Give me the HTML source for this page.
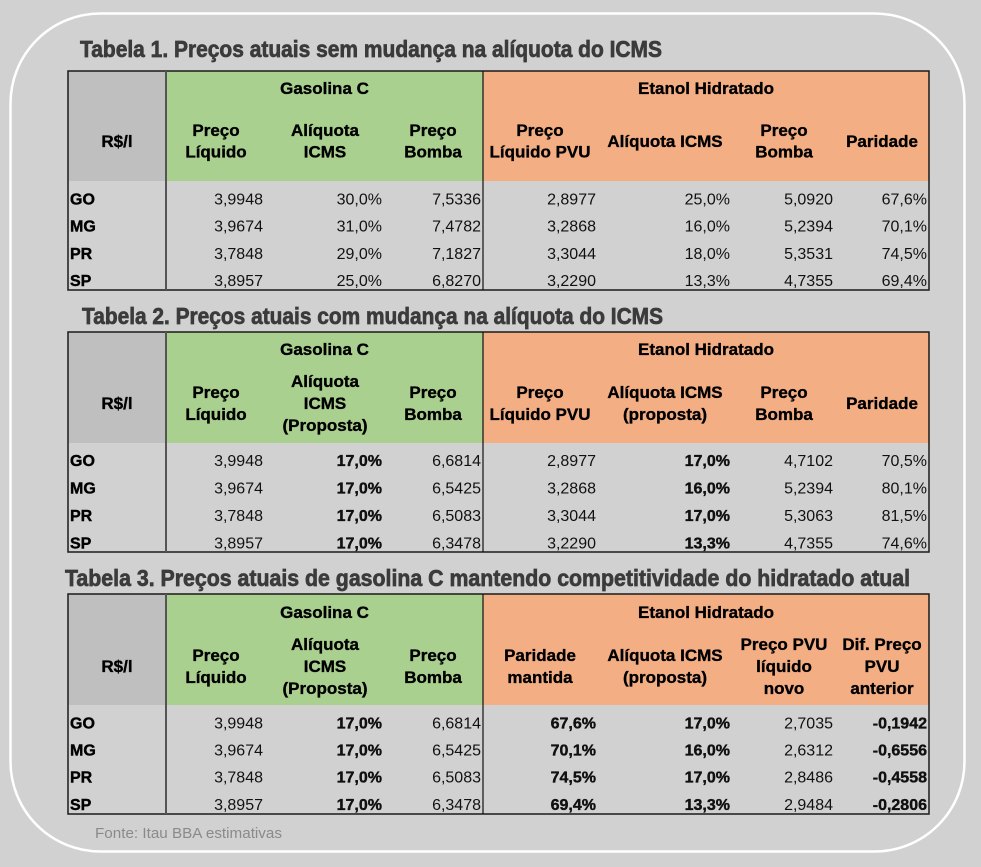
<!DOCTYPE html>
<html><head><meta charset="utf-8"><style>
html,body{margin:0;padding:0;background:#d1d1d1;}
svg{display:block;}
.t{font-family:"Liberation Sans",sans-serif;font-weight:bold;font-size:23px;fill:#3b3b3b;stroke:#3b3b3b;stroke-width:0.7px;}
.h{font-family:"Liberation Sans",sans-serif;font-weight:bold;font-size:17px;fill:#000;text-anchor:middle;stroke:#000;stroke-width:0.35px;}
.d{font-family:"Liberation Sans",sans-serif;font-size:16px;fill:#111;text-anchor:end;}
.b{font-weight:bold;stroke:#000;stroke-width:0.35px;}
.l{font-family:"Liberation Sans",sans-serif;font-weight:bold;font-size:16px;fill:#000;stroke:#000;stroke-width:0.4px;}
.f{font-family:"Liberation Sans",sans-serif;font-size:15px;fill:#8a8a8a;}
</style></head><body>
<svg width="981" height="867" viewBox="0 0 981 867" xmlns="http://www.w3.org/2000/svg">
<rect x="0" y="0" width="981" height="867" fill="#d1d1d1"/>
<rect x="10.5" y="13.5" width="954" height="838" rx="90" ry="90" fill="none" stroke="#ffffff" stroke-width="2.5"/>

<!-- Titles -->
<text class="t" x="80" y="57" textLength="582" lengthAdjust="spacingAndGlyphs">Tabela 1. Preços atuais sem mudança na alíquota do ICMS</text>
<text class="t" x="82" y="324" textLength="581" lengthAdjust="spacingAndGlyphs">Tabela 2. Preços atuais com mudança na alíquota do ICMS</text>
<text class="t" x="65" y="586" textLength="845" lengthAdjust="spacingAndGlyphs">Tabela 3. Preços atuais de gasolina C mantendo competitividade do hidratado atual</text>

<!-- TABLE 1 -->
<rect x="68" y="71" width="98" height="110" fill="#bfbfbf"/>
<rect x="166" y="71" width="317" height="110" fill="#a9d08e"/>
<rect x="483" y="71" width="446" height="110" fill="#f4ae84"/>
<rect x="68" y="71" width="861" height="219" fill="none" stroke="#1a1a1a" stroke-width="1.5"/>
<line x1="166" y1="71" x2="166" y2="290" stroke="#555" stroke-width="2"/>
<line x1="483" y1="71" x2="483" y2="290" stroke="#111" stroke-width="1.2"/>

<text class="h" x="324.5" y="94">Gasolina C</text>
<text class="h" x="706" y="94">Etanol Hidratado</text>
<text class="h" x="117" y="147">R$/l</text>
<text class="h" x="216" y="136">Preço</text><text class="h" x="216" y="157.5">Líquido</text>
<text class="h" x="325" y="136">Alíquota</text><text class="h" x="325" y="157.5">ICMS</text>
<text class="h" x="433" y="136">Preço</text><text class="h" x="433" y="157.5">Bomba</text>
<text class="h" x="540" y="136">Preço</text><text class="h" x="540" y="157.5">Líquido PVU</text>
<text class="h" x="665" y="147">Alíquota ICMS</text>
<text class="h" x="784" y="136">Preço</text><text class="h" x="784" y="157.5">Bomba</text>
<text class="h" x="882" y="147">Paridade</text>

<g>
<text class="l" x="70" y="204.3">GO</text>
<text class="d" x="263" y="204.3">3,9948</text><text class="d" x="382" y="204.3">30,0%</text><text class="d" x="481" y="204.3">7,5336</text>
<text class="d" x="596" y="204.3">2,8977</text><text class="d" x="730" y="204.3">25,0%</text><text class="d" x="833" y="204.3">5,0920</text><text class="d" x="927" y="204.3">67,6%</text>
<text class="l" x="70" y="231.5">MG</text>
<text class="d" x="263" y="231.5">3,9674</text><text class="d" x="382" y="231.5">31,0%</text><text class="d" x="481" y="231.5">7,4782</text>
<text class="d" x="596" y="231.5">3,2868</text><text class="d" x="730" y="231.5">16,0%</text><text class="d" x="833" y="231.5">5,2394</text><text class="d" x="927" y="231.5">70,1%</text>
<text class="l" x="70" y="258.8">PR</text>
<text class="d" x="263" y="258.8">3,7848</text><text class="d" x="382" y="258.8">29,0%</text><text class="d" x="481" y="258.8">7,1827</text>
<text class="d" x="596" y="258.8">3,3044</text><text class="d" x="730" y="258.8">18,0%</text><text class="d" x="833" y="258.8">5,3531</text><text class="d" x="927" y="258.8">74,5%</text>
<text class="l" x="70" y="286">SP</text>
<text class="d" x="263" y="286">3,8957</text><text class="d" x="382" y="286">25,0%</text><text class="d" x="481" y="286">6,8270</text>
<text class="d" x="596" y="286">3,2290</text><text class="d" x="730" y="286">13,3%</text><text class="d" x="833" y="286">4,7355</text><text class="d" x="927" y="286">69,4%</text>
</g>

<!-- TABLE 2 -->
<rect x="68" y="332" width="98" height="111" fill="#bfbfbf"/>
<rect x="166" y="332" width="317" height="111" fill="#a9d08e"/>
<rect x="483" y="332" width="446" height="111" fill="#f4ae84"/>
<rect x="68" y="332" width="861" height="220" fill="none" stroke="#1a1a1a" stroke-width="1.5"/>
<line x1="166" y1="332" x2="166" y2="552" stroke="#555" stroke-width="2"/>
<line x1="483" y1="332" x2="483" y2="552" stroke="#111" stroke-width="1.2"/>

<text class="h" x="324.5" y="355">Gasolina C</text>
<text class="h" x="706" y="355">Etanol Hidratado</text>
<text class="h" x="117" y="409">R$/l</text>
<text class="h" x="216" y="398">Preço</text><text class="h" x="216" y="420">Líquido</text>
<text class="h" x="325" y="387">Alíquota</text><text class="h" x="325" y="409">ICMS</text><text class="h" x="325" y="431">(Proposta)</text>
<text class="h" x="433" y="398">Preço</text><text class="h" x="433" y="420">Bomba</text>
<text class="h" x="540" y="398">Preço</text><text class="h" x="540" y="420">Líquido PVU</text>
<text class="h" x="665" y="398">Alíquota ICMS</text><text class="h" x="665" y="420">(proposta)</text>
<text class="h" x="784" y="398">Preço</text><text class="h" x="784" y="420">Bomba</text>
<text class="h" x="882" y="409">Paridade</text>

<g>
<text class="l" x="70" y="466">GO</text>
<text class="d" x="263" y="466">3,9948</text><text class="d b" x="382" y="466">17,0%</text><text class="d" x="481" y="466">6,6814</text>
<text class="d" x="596" y="466">2,8977</text><text class="d b" x="730" y="466">17,0%</text><text class="d" x="833" y="466">4,7102</text><text class="d" x="927" y="466">70,5%</text>
<text class="l" x="70" y="493.5">MG</text>
<text class="d" x="263" y="493.5">3,9674</text><text class="d b" x="382" y="493.5">17,0%</text><text class="d" x="481" y="493.5">6,5425</text>
<text class="d" x="596" y="493.5">3,2868</text><text class="d b" x="730" y="493.5">16,0%</text><text class="d" x="833" y="493.5">5,2394</text><text class="d" x="927" y="493.5">80,1%</text>
<text class="l" x="70" y="521">PR</text>
<text class="d" x="263" y="521">3,7848</text><text class="d b" x="382" y="521">17,0%</text><text class="d" x="481" y="521">6,5083</text>
<text class="d" x="596" y="521">3,3044</text><text class="d b" x="730" y="521">17,0%</text><text class="d" x="833" y="521">5,3063</text><text class="d" x="927" y="521">81,5%</text>
<text class="l" x="70" y="548.5">SP</text>
<text class="d" x="263" y="548.5">3,8957</text><text class="d b" x="382" y="548.5">17,0%</text><text class="d" x="481" y="548.5">6,3478</text>
<text class="d" x="596" y="548.5">3,2290</text><text class="d b" x="730" y="548.5">13,3%</text><text class="d" x="833" y="548.5">4,7355</text><text class="d" x="927" y="548.5">74,6%</text>
</g>

<!-- TABLE 3 -->
<rect x="68" y="594" width="98" height="111" fill="#bfbfbf"/>
<rect x="166" y="594" width="317" height="111" fill="#a9d08e"/>
<rect x="483" y="594" width="446" height="111" fill="#f4ae84"/>
<rect x="68" y="594" width="861" height="220" fill="none" stroke="#1a1a1a" stroke-width="1.5"/>
<line x1="166" y1="594" x2="166" y2="814" stroke="#555" stroke-width="2"/>
<line x1="483" y1="594" x2="483" y2="814" stroke="#111" stroke-width="1.2"/>

<text class="h" x="324.5" y="618">Gasolina C</text>
<text class="h" x="706" y="618">Etanol Hidratado</text>
<text class="h" x="117" y="672">R$/l</text>
<text class="h" x="216" y="661">Preço</text><text class="h" x="216" y="683">Líquido</text>
<text class="h" x="325" y="650">Alíquota</text><text class="h" x="325" y="672">ICMS</text><text class="h" x="325" y="694">(Proposta)</text>
<text class="h" x="433" y="661">Preço</text><text class="h" x="433" y="683">Bomba</text>
<text class="h" x="540" y="661">Paridade</text><text class="h" x="540" y="683">mantida</text>
<text class="h" x="665" y="661">Alíquota ICMS</text><text class="h" x="665" y="683">(proposta)</text>
<text class="h" x="784" y="650">Preço PVU</text><text class="h" x="784" y="672">líquido</text><text class="h" x="784" y="694">novo</text>
<text class="h" x="882" y="650">Dif. Preço</text><text class="h" x="882" y="672">PVU</text><text class="h" x="882" y="694">anterior</text>

<g>
<text class="l" x="70" y="728.3">GO</text>
<text class="d" x="263" y="728.3">3,9948</text><text class="d b" x="382" y="728.3">17,0%</text><text class="d" x="481" y="728.3">6,6814</text>
<text class="d b" x="596" y="728.3">67,6%</text><text class="d b" x="730" y="728.3">17,0%</text><text class="d" x="833" y="728.3">2,7035</text><text class="d b" x="927" y="728.3">-0,1942</text>
<text class="l" x="70" y="755.5">MG</text>
<text class="d" x="263" y="755.5">3,9674</text><text class="d b" x="382" y="755.5">17,0%</text><text class="d" x="481" y="755.5">6,5425</text>
<text class="d b" x="596" y="755.5">70,1%</text><text class="d b" x="730" y="755.5">16,0%</text><text class="d" x="833" y="755.5">2,6312</text><text class="d b" x="927" y="755.5">-0,6556</text>
<text class="l" x="70" y="782.7">PR</text>
<text class="d" x="263" y="782.7">3,7848</text><text class="d b" x="382" y="782.7">17,0%</text><text class="d" x="481" y="782.7">6,5083</text>
<text class="d b" x="596" y="782.7">74,5%</text><text class="d b" x="730" y="782.7">17,0%</text><text class="d" x="833" y="782.7">2,8486</text><text class="d b" x="927" y="782.7">-0,4558</text>
<text class="l" x="70" y="810">SP</text>
<text class="d" x="263" y="810">3,8957</text><text class="d b" x="382" y="810">17,0%</text><text class="d" x="481" y="810">6,3478</text>
<text class="d b" x="596" y="810">69,4%</text><text class="d b" x="730" y="810">13,3%</text><text class="d" x="833" y="810">2,9484</text><text class="d b" x="927" y="810">-0,2806</text>
</g>

<text class="f" x="95" y="838" textLength="187" lengthAdjust="spacingAndGlyphs">Fonte: Itau BBA estimativas</text>
</svg>
</body></html>
